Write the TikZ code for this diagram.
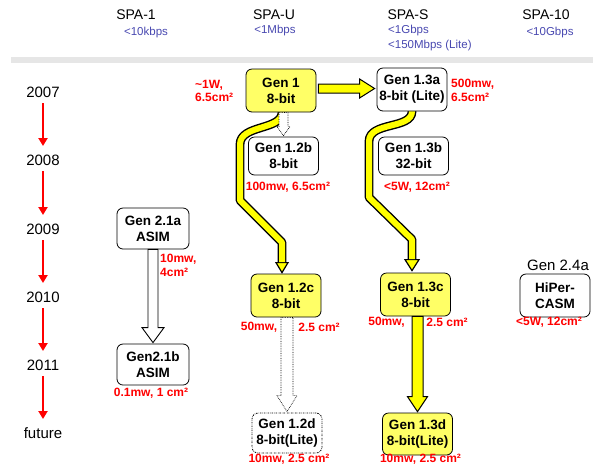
\documentclass[tikz,border=0pt]{standalone}
\usepackage{fontspec}
\setmainfont{Liberation Sans}
\usetikzlibrary{calc,arrows.meta,backgrounds}

\definecolor{boxyellow}{RGB}{255,255,102}
\definecolor{bandyellow}{RGB}{255,255,0}
\definecolor{spablue}{RGB}{72,72,176}
\definecolor{bargray}{RGB}{230,230,230}
\definecolor{specred}{RGB}{255,0,0}

% vertical block arrow: style, from node, to node, shaft half width, head half width, head length
\newcommand\blockdown[6]{%
  \path[#1] let \p1=(#2.south), \p2=(#3.north) in
    (\x2-#4pt,\y1) -- (\x2-#4pt,\y2+#6pt+1pt) -- (\x2-#5pt,\y2+#6pt+1pt) --
    (\x2,\y2+1pt) -- (\x2+#5pt,\y2+#6pt+1pt) -- (\x2+#4pt,\y2+#6pt+1pt) --
    (\x2+#4pt,\y1) -- cycle;}

\begin{document}
\begin{tikzpicture}[x=1pt,y=-1pt,
  gen/.style={draw=black, line width=0.8pt, rounded corners=6pt, fill=white,
    align=center, font=\fontsize{13.5}{16}\selectfont\bfseries,
    minimum width=70pt, minimum height=43pt, inner sep=1pt},
  hot/.style={gen, fill=boxyellow},
  dotborder/.style={dash pattern=on 1.5pt off 1pt on 0.4pt off 1pt},
  spec/.style={text=specred, font=\fontsize{12}{13.5}\selectfont\bfseries,
    inner sep=0pt, align=left},
  spa/.style={font=\fontsize{14}{16}\selectfont, inner sep=0pt},
  rate/.style={text=spablue, font=\fontsize{11.5}{13}\selectfont, inner sep=0pt},
  year/.style={font=\fontsize{15}{18}\selectfont, inner sep=0pt},
  yarr/.style={draw=red, line width=2.8pt, -{Triangle[width=9pt,length=8pt]}},
  band/.style={draw=black, line width=1.4pt, double=bandyellow, double distance=6pt,
    line join=round},
  bandhead/.style={fill=bandyellow, draw=black, line width=1.2pt, line join=miter},
  whitearrow/.style={fill=white, draw=black, line width=0.9pt},
  dotarrow/.style={fill=white, draw=black, line width=0.7pt, densely dotted},
  yelarrow/.style={fill=bandyellow, draw=black, line width=1pt}]

\useasboundingbox (0,0) rectangle (593,467);

% column headings
\node[spa] (h1) at (136,15) {SPA-1};
\node[spa] (hu) at (274,15) {SPA-U};
\node[spa] (hs) at (408,15) {SPA-S};
\node[spa] (h10) at (546,15) {SPA-10};
\node[rate] (r1) at (146,33) {<10kbps};
\node[rate] (ru) at (275,31) {<1Mbps};
\node[rate, anchor=west] (rs1) at (388,31) {<1Gbps};
\node[rate, anchor=west] (rs2) at (388,46) {<150Mbps (Lite)};
\node[rate] (r10) at (550,33) {<10Gbps};
\fill[bargray] (11,57) rectangle (593,63);

% time axis
\node[year] (y07) at (43,92) {2007};
\node[year] (y08) at (43,160) {2008};
\node[year] (y09) at (43,229) {2009};
\node[year] (y10) at (43,297) {2010};
\node[year] (y11) at (43,365) {2011};
\node[year] (yfu) at (43,433) {future};
\foreach \a/\b in {y07/y08,y08/y09,y09/y10,y10/y11,y11/yfu}
  \draw[yarr] ($(\a)+(0,11)$) -- ($(\b)+(0,-14)$);

% generations
\node[hot] (g1) at (281,90.5) {Gen 1\\8-bit};
\node[gen] (g13a) at (412,89.5) {Gen 1.3a\\8-bit (Lite)};
\node[gen, minimum height=38pt] (g12b) at (283.5,156) {Gen 1.2b\\8-bit};
\node[gen, minimum height=38pt] (g13b) at (413.5,156) {Gen 1.3b\\32-bit};
\node[gen, minimum width=72pt, minimum height=41pt] (g21a) at (153,228.5) {Gen 2.1a\\ASIM};
\node[gen, minimum width=72pt, minimum height=41pt] (g21b) at (153,364.5) {Gen2.1b\\ASIM};
\node[hot] (g12c) at (286,295.5) {Gen 1.2c\\8-bit};
\node[gen, dotborder, minimum height=40pt] (g12d) at (287,433) {Gen 1.2d\\8-bit(Lite)};
\node[hot] (g13c) at (415.5,294.5) {Gen 1.3c\\8-bit};
\node[hot, minimum height=42pt] (g13d) at (417.5,434) {Gen 1.3d\\8-bit(Lite)};
\node[gen] (ghc) at (555,295.5) {HiPer-\\CASM};
\node[font=\fontsize{15}{18}\selectfont, inner sep=0pt] (g24a) at (558,265) {Gen 2.4a};

% curved evolution bands
\begin{scope}[on background layer]
  \path[bandhead] ($(g12c.north)+(-10,-11)$) -- ($(g12c.north)+(2,-11)$)
    -- ($(g12c.north)+(-4,-1)$) -- cycle;
  \draw[band] ($(g1.south)+(1,-4)$) -- ++(0,4)
    .. controls +(0,18) and +(0,-20) .. ++(-42,32)
    -- ++(0,56) -- ++(42,42) -- ($(g12c.north)+(-4,-11.6)$);
  \path[bandhead] ($(g13c.north)+(-10.5,-13)$) -- ($(g13c.north)+(3.5,-13)$)
    -- ($(g13c.north)+(-3.5,-2)$) -- cycle;
  \draw[band] ($(g13a.south)+(0,-4)$) -- ++(0,4)
    .. controls +(0,18) and +(0,-20) .. ++(-43,30)
    -- ++(0,56) -- ++(43,42) -- ($(g13c.north)+(-3.5,-13.6)$);
\end{scope}

% straight block arrows
\path[yelarrow] let \p1=(g1.east), \p2=(g13a.west) in
  (\x1+2pt,\y1+6.5pt) -- (\x2-17pt,\y1+6.5pt) -- (\x2-17pt,\y1+11.5pt) --
  (\x2-2pt,\y1+2pt) -- (\x2-17pt,\y1-7.5pt) -- (\x2-17pt,\y1-2.5pt) --
  (\x1+2pt,\y1-2.5pt) -- cycle;
\blockdown{dotarrow}{g1}{g12b}{4.5}{6.5}{9}
\blockdown{whitearrow}{g21a}{g21b}{5}{11}{15}
\blockdown{dotarrow}{g12c}{g12d}{6}{10}{16}
\blockdown{yelarrow}{g13c}{g13d}{5.5}{10}{15}

% power and area figures
\node[spec, anchor=west] (s1) at (195,91) {\textasciitilde1W,\\6.5cm²};
\node[spec, anchor=west] (s13a) at (451,90.5) {500mw,\\6.5cm²};
\node[spec] (s12b) at (288,187.5) {100mw, 6.5cm²};
\node[spec] (s13b) at (417,187) {<5W, 12cm²};
\node[spec, anchor=west] (s21a) at (160,265.5) {10mw,\\4cm²};
\node[spec] (s21b) at (151,393) {0.1mw, 1 cm²};
\node[spec] (s12ca) at (259,327) {50mw,};
\node[spec] (s12cb) at (319,327) {2.5 cm²};
\node[spec] (s13ca) at (386.5,322) {50mw,};
\node[spec] (s13cb) at (447,322) {2.5 cm²};
\node[spec] (s12d) at (289,459) {10mw, 2.5 cm²};
\node[spec] (s13d) at (420.5,459) {10mw, 2.5 cm²};
\node[spec] (shc) at (549,322) {<5W, 12cm²};

\end{tikzpicture}
\end{document}
